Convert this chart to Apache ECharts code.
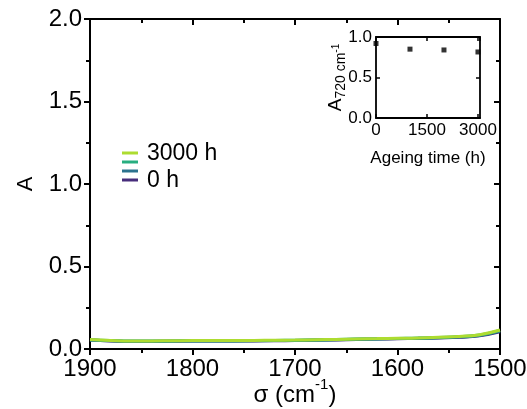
<!DOCTYPE html>
<html><head><meta charset="utf-8">
<script src="https://cdn.jsdelivr.net/npm/echarts@6/dist/echarts.min.js"></script>
<style>html,body{margin:0;padding:0;background:#fff}#c{width:527px;height:409px}</style>
</head><body><div id="c"></div>
<script>
// Wavenumbers (cm^-1)
const wavenumbers = [1900,1880,1860,1840,1820,1800,1780,1760,1740,1720,1700,1680,1660,1640,1620,1600,1580,1560,1540,1520,1500];
const spec0h    = [0.054,0.049,0.046,0.046,0.047,0.048,0.048,0.048,0.049,0.050,0.051,0.053,0.055,0.058,0.060,0.062,0.064,0.067,0.071,0.080,0.104];
const spec1000h = [0.055,0.050,0.047,0.047,0.048,0.049,0.049,0.049,0.050,0.051,0.052,0.054,0.056,0.059,0.061,0.063,0.065,0.068,0.073,0.082,0.108];
const spec2000h = [0.056,0.051,0.048,0.048,0.049,0.050,0.050,0.050,0.051,0.052,0.053,0.055,0.057,0.060,0.062,0.064,0.066,0.070,0.075,0.085,0.112];
const spec3000h = [0.057,0.052,0.049,0.049,0.050,0.051,0.051,0.051,0.052,0.053,0.054,0.056,0.058,0.061,0.063,0.065,0.067,0.071,0.076,0.087,0.115];
const seriesNames = ['0 h','1000 h','2000 h','3000 h'];
// Inset: absorbance at 720 cm^-1 vs ageing time
const ageingTime = [0, 1000, 2000, 3000];
const a720 = [0.92, 0.85, 0.84, 0.815];

const colors = ['#472d7b','#2c728e','#28ae80','#addc30'];
const FONT = 'Liberation Sans, Arial, sans-serif';
const specs = [spec0h, spec1000h, spec2000h, spec3000h];

const chart = echarts.init(document.getElementById('c'));
const axisLine = {show:true, onZero:false, lineStyle:{color:'#000', width:2}};
const axisLineIn = {show:true, onZero:false, lineStyle:{color:'#000', width:1.8}};
const plain = v => String(v);
const option = {
  animation:false,
  backgroundColor:'#fff',
  textStyle:{fontFamily:FONT, color:'#000'},
  grid:[
    {left:90, top:19, width:410, height:330, show:false, containLabel:false, outerBoundsMode:'none'},
    {left:376, top:37, width:104, height:81, show:false, containLabel:false, outerBoundsMode:'none'}
  ],
  xAxis:[
    {gridIndex:0, type:'value', min:1500, max:1900, interval:100, inverse:true, position:'bottom',
     axisLine:axisLine, axisTick:{show:true, inside:false, length:6, lineStyle:{color:'#000', width:2}},
     minorTick:{show:true, splitNumber:2, length:4, lineStyle:{color:'#000', width:2}},
     splitLine:{show:false},
     axisLabel:{color:'#000', fontSize:24, fontFamily:FONT, margin:8, formatter:plain},
     name:'{a|σ (cm}{s|-1}{a|)}', nameLocation:'middle', nameGap:28, nameMoveOverlap:false,
     nameTextStyle:{rich:{a:{fontSize:24, fontFamily:FONT, color:'#000', lineHeight:30, verticalAlign:'bottom'}, s:{fontSize:15, fontFamily:FONT, color:'#000', lineHeight:30, verticalAlign:'top'}}}},
    {gridIndex:0, type:'value', min:1500, max:1900, interval:100, inverse:true, position:'top',
     axisLine:axisLine, axisTick:{show:true, inside:true, length:6, lineStyle:{color:'#000', width:2}},
     minorTick:{show:true, splitNumber:2, length:4, lineStyle:{color:'#000', width:2}},
     splitLine:{show:false}, axisLabel:{show:false}},
    {gridIndex:1, type:'value', min:0, max:3060, interval:1500, position:'bottom',
     axisLine:axisLineIn, axisTick:{show:true, inside:true, length:4, lineStyle:{color:'#000', width:1.5}},
     splitLine:{show:false},
     axisLabel:{color:'#000', fontSize:17, fontFamily:FONT, margin:4, showMaxLabel:false, formatter:plain},
     name:'Ageing time (h)', nameLocation:'middle', nameGap:32,
     nameTextStyle:{fontSize:17, fontFamily:FONT, color:'#000'}},
    {gridIndex:1, type:'value', min:0, max:3060, interval:1500, position:'top',
     axisLine:axisLineIn, axisTick:{show:true, inside:true, length:4, lineStyle:{color:'#000', width:1.5}},
     splitLine:{show:false}, axisLabel:{show:false}}
  ],
  yAxis:[
    {gridIndex:0, type:'value', min:0, max:2, interval:0.5, position:'left',
     axisLine:axisLine, axisTick:{show:true, inside:false, length:6, lineStyle:{color:'#000', width:2}},
     minorTick:{show:true, splitNumber:2, length:4, lineStyle:{color:'#000', width:2}},
     splitLine:{show:false},
     axisLabel:{color:'#000', fontSize:24, fontFamily:FONT, margin:8, formatter:v=>v.toFixed(1)},
     name:'A', nameLocation:'middle', nameGap:53, nameRotate:90,
     nameTextStyle:{fontSize:22, fontFamily:FONT, color:'#000'}},
    {gridIndex:0, type:'value', min:0, max:2, interval:0.5, position:'right',
     axisLine:axisLine, axisTick:{show:true, inside:true, length:6, lineStyle:{color:'#000', width:2}},
     minorTick:{show:true, splitNumber:2, length:4, lineStyle:{color:'#000', width:2}},
     splitLine:{show:false}, axisLabel:{show:false}},
    {gridIndex:1, type:'value', min:0, max:1, interval:0.5, position:'left',
     axisLine:axisLineIn, axisTick:{show:true, inside:true, length:4, lineStyle:{color:'#000', width:1.5}},
     splitLine:{show:false},
     axisLabel:{color:'#000', fontSize:17, fontFamily:FONT, margin:4, formatter:v=>v.toFixed(1)},
     name:'{a|A}{b|720 cm}{s|-1}', nameLocation:'middle', nameGap:28, nameRotate:90, nameMoveOverlap:false,
     nameTextStyle:{rich:{a:{fontSize:19, fontFamily:FONT, color:'#000', lineHeight:24, verticalAlign:'middle'}, b:{fontSize:14, fontFamily:FONT, color:'#000', lineHeight:24, verticalAlign:'bottom'}, s:{fontSize:10, fontFamily:FONT, color:'#000', lineHeight:24, verticalAlign:'middle'}}}},
    {gridIndex:1, type:'value', min:0, max:1, interval:0.5, position:'right',
     axisLine:axisLineIn, axisTick:{show:true, inside:true, length:4, lineStyle:{color:'#000', width:1.5}},
     splitLine:{show:false}, axisLabel:{show:false}}
  ],
  series: specs.map((s,i)=>({
    name:seriesNames[i], type:'line', xAxisIndex:0, yAxisIndex:0, smooth:true, showSymbol:false,
    lineStyle:{color:colors[i], width:3}, itemStyle:{color:colors[i]},
    data: wavenumbers.map((w,j)=>[w, s[j]]), z:2+i
  })).concat([{
    name:'A720', type:'scatter', xAxisIndex:2, yAxisIndex:2, symbol:'rect', symbolSize:5,
    itemStyle:{color:'#000'}, data: ageingTime.map((t,j)=>[t, a720[j]]), clip:false
  }]),
  graphic:[
    {type:'line', shape:{x1:122,y1:153,x2:138,y2:153}, style:{stroke:colors[3], lineWidth:3}},
    {type:'line', shape:{x1:122,y1:162,x2:138,y2:162}, style:{stroke:colors[2], lineWidth:3}},
    {type:'line', shape:{x1:122,y1:171,x2:138,y2:171}, style:{stroke:colors[1], lineWidth:3}},
    {type:'line', shape:{x1:122,y1:180,x2:138,y2:180}, style:{stroke:colors[0], lineWidth:3}},
    {type:'text', x:147, y:154, style:{text:seriesNames[3], fontSize:23, fontFamily:FONT, fill:'#000', textVerticalAlign:'middle'}},
    {type:'text', x:147, y:181, style:{text:seriesNames[0], fontSize:23, fontFamily:FONT, fill:'#000', textVerticalAlign:'middle'}}
  ]
};
chart.setOption(option);
</script></body></html>
